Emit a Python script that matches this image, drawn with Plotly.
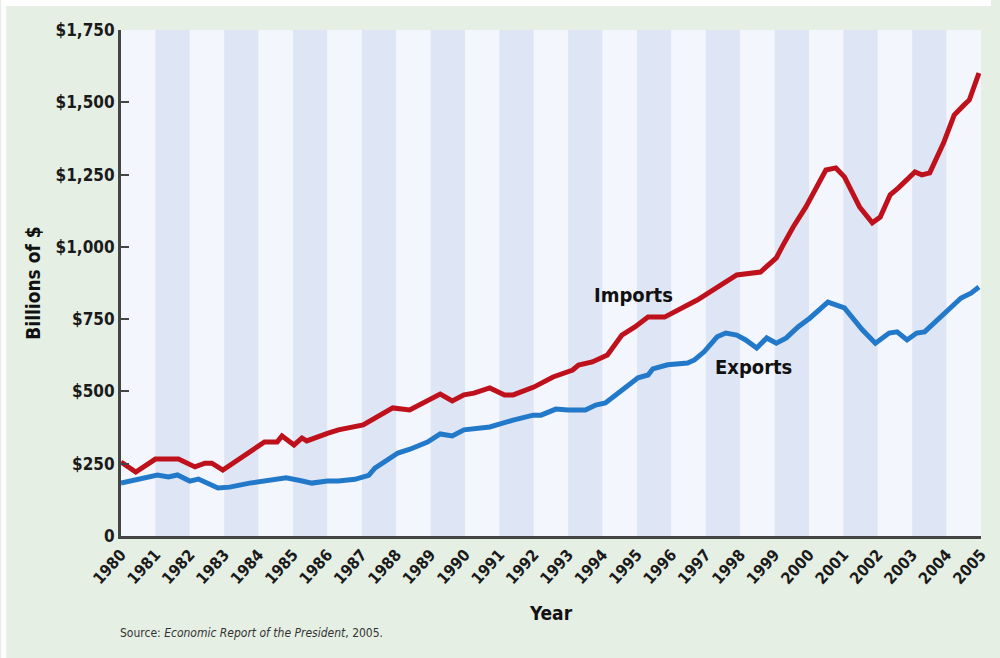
import plotly.graph_objects as go

# ---- data ----
years = list(range(1980, 2006))
year_labels = [str(y) for y in years]
y_ticks = [0, 250, 500, 750, 1000, 1250, 1500, 1750]
y_tick_labels = ["0", "$250", "$500", "$750", "$1,000", "$1,250", "$1,500", "$1,750"]

imports_t = [1980.0, 1980.43, 1981.0, 1981.67, 1982.15, 1982.44, 1982.64, 1982.96, 1984.17, 1984.54,
             1984.68, 1985.03, 1985.26, 1985.4, 1986.0, 1986.32, 1987.04, 1987.9, 1988.39, 1989.28,
             1989.63, 1989.97, 1990.26, 1990.72, 1991.15, 1991.4, 1992.0, 1992.56, 1993.13, 1993.3,
             1993.7, 1994.14, 1994.56, 1994.94, 1995.32, 1995.8, 1996.75, 1997.9, 1998.59, 1999.05,
             1999.25, 1999.54, 1999.91, 2000.2, 2000.49, 2000.78, 2001.03, 2001.47, 2001.84, 2002.07,
             2002.36, 2002.6, 2003.08, 2003.28, 2003.51, 2003.91, 2004.22, 2004.51, 2004.66, 2004.94]
imports_v = [256, 221, 266, 266, 239, 252, 252, 228, 325, 325,
             346, 315, 339, 329, 355, 367, 384, 443, 436, 491,
             467, 488, 494, 512, 488, 488, 515, 550, 574, 591,
             602, 626, 695, 723, 757, 757, 816, 903, 913, 962,
             1007, 1069, 1138, 1205, 1266, 1273, 1242, 1138, 1083, 1103,
             1180, 1204, 1259, 1249, 1256, 1359, 1456, 1491, 1508, 1601]

exports_t = [1980.0, 1980.5, 1981.06, 1981.38, 1981.64, 1982.0, 1982.25, 1982.82, 1983.16, 1983.74,
             1984.3, 1984.8, 1985.2, 1985.55, 1986.0, 1986.32, 1986.8, 1987.0, 1987.2, 1987.38,
             1988.05, 1988.4, 1988.91, 1989.28, 1989.63, 1989.97, 1990.72, 1991.4, 1991.98, 1992.21,
             1992.64, 1993.0, 1993.5, 1993.8, 1994.08, 1994.57, 1995.03, 1995.32, 1995.46, 1995.89,
             1996.47, 1996.67, 1996.95, 1997.33, 1997.58, 1997.9, 1998.16, 1998.48, 1998.77, 1999.05,
             1999.34, 1999.68, 2000.03, 2000.55, 2001.03, 2001.55, 2001.93, 2002.33, 2002.56, 2002.85,
             2003.13, 2003.36, 2003.85, 2004.42, 2004.71, 2004.94]
exports_v = [183, 196, 211, 204, 211, 190, 197, 166, 169, 183,
             192, 201, 192, 183, 190, 190, 196, 205, 210, 235,
             287, 300, 325, 353, 346, 367, 377, 401, 418, 418,
             439, 436, 436, 453, 460, 505, 547, 557, 578, 592,
             598, 609, 637, 689, 702, 695, 678, 650, 685, 667,
             685, 723, 754, 809, 789, 713, 667, 702, 706, 678,
             702, 706, 758, 823, 840, 861]

# ---- style ----
FONT = "Liberation Sans Narrow, DejaVu Sans Condensed, Arial Narrow, Roboto, sans-serif"
GREEN = "#e6efe4"
LIGHT_BAND = "#f3f6fc"
DARK_BAND = "#dee5f4"
AXIS = "#444444"
RED = "#bf111b"
BLUE = "#2379c9"
TXT = "#1a1a1a"

W, H = 1000, 658
ML, MR, MT, MB = 121, 10, 30, 122
PW, PH = W - ML - MR, H - MT - MB

fig = go.Figure()

fig.add_trace(go.Scatter(x=imports_t, y=imports_v, mode="lines", name="Imports",
                         line=dict(color=RED, width=5), hoverinfo="x+y"))
fig.add_trace(go.Scatter(x=exports_t, y=exports_v, mode="lines", name="Exports",
                         line=dict(color=BLUE, width=5), hoverinfo="x+y"))

shapes = []
for i, y0 in enumerate(years[:-1]):
    shapes.append(dict(type="rect", xref="x", yref="paper", x0=y0, x1=y0 + 1, y0=0, y1=1,
                       fillcolor=LIGHT_BAND if i % 2 == 0 else DARK_BAND,
                       line=dict(width=0), layer="below"))
# white margins at top and left of the picture
shapes.append(dict(type="rect", xref="paper", yref="paper",
                   x0=(0 - ML) / PW, x1=(W - ML) / PW,
                   y0=(H - MB - 6) / PH, y1=(H - MB) / PH,
                   fillcolor="white", line=dict(width=0), layer="below"))
shapes.append(dict(type="rect", xref="paper", yref="paper",
                   x0=(0 - ML) / PW, x1=(5 - ML) / PW,
                   y0=(H - MB - H) / PH, y1=(H - MB) / PH,
                   fillcolor="white", line=dict(width=0), layer="below"))

annotations = [
    dict(x=1994.9, y=835, xref="x", yref="y", text="<b>Imports</b>", showarrow=False,
         font=dict(family=FONT, size=20, color="#111111")),
    dict(x=1998.4, y=583, xref="x", yref="y", text="<b>Exports</b>", showarrow=False,
         font=dict(family=FONT, size=20, color="#111111")),
    dict(x=(118 - ML) / PW, y=(H - MB - 633) / PH, xref="paper", yref="paper",
         xanchor="left", yanchor="middle", showarrow=False,
         text="Source: <i>Economic Report of the President</i>, 2005.",
         font=dict(family=FONT, size=12, color="#333333")),
]

fig.update_layout(
    width=W, height=H,
    margin=dict(l=ML, r=MR, t=MT, b=MB),
    paper_bgcolor=GREEN,
    plot_bgcolor=LIGHT_BAND,
    showlegend=False,
    shapes=shapes,
    annotations=annotations,
    font=dict(family=FONT, color=TXT),
    xaxis=dict(
        range=[1980, 2005], tickmode="array", tickvals=years, ticktext=year_labels,
        tickangle=-48, showgrid=False, zeroline=False,
        showline=True, linecolor=AXIS, linewidth=3, ticks="",
        tickfont=dict(family=FONT, size=16, color=TXT, weight="bold"),
        title=dict(text="<b>Year</b>", font=dict(family=FONT, size=19, color="#111111"), standoff=20),
    ),
    yaxis=dict(
        range=[0, 1750], tickmode="array", tickvals=y_ticks, ticktext=y_tick_labels,
        showgrid=False, zeroline=False,
        showline=True, linecolor=AXIS, linewidth=3,
        ticks="inside", ticklen=8, tickwidth=2, tickcolor=AXIS,
        tickfont=dict(family=FONT, size=17, color=TXT, weight="bold"),
        title=dict(text="<b>Billions of $</b>", font=dict(family=FONT, size=19, color="#111111"), standoff=10),
    ),
)

fig.write_html("out.html")
